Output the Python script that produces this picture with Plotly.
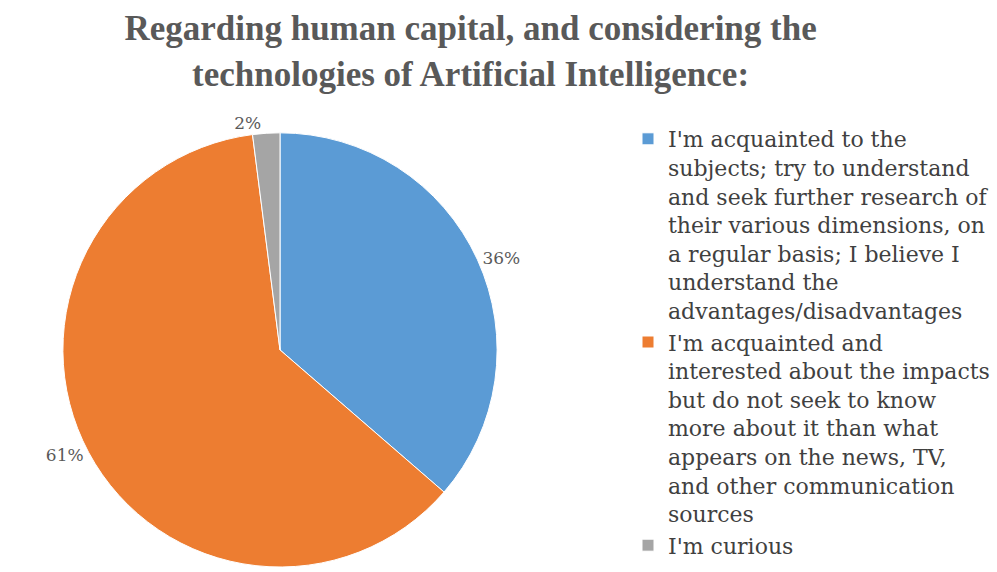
import plotly.graph_objects as go

# Survey answers and their shares (%)
answers = [
    "I'm acquainted to the<br>subjects; try to understand<br>and seek further research of<br>their various dimensions, on<br>a regular basis; I believe I<br>understand the<br>advantages/disadvantages",
    "I'm acquainted and<br>interested about the impacts<br>but do not seek to know<br>more about it than what<br>appears on the news, TV,<br>and other communication<br>sources",
    "I'm curious",
]
shares = [36, 61, 2]
slice_colors = ["#5B9BD5", "#ED7D31", "#A5A5A5"]

title_text = "Regarding human capital, and considering the<br>technologies of Artificial Intelligence:"

W, H = 997, 572
cx, half = 280, 219  # pie domain centre (x) and half-size in pixels

fig = go.Figure(
    go.Pie(
        labels=answers,
        values=shares,
        sort=False,
        direction="clockwise",
        rotation=0,
        marker=dict(colors=slice_colors, line=dict(color="white", width=1)),
        texttemplate="%{value}%",
        textposition="outside",
        textfont=dict(family="DejaVu Serif", size=17, color="#595959"),
        hoverinfo="label+value",
        domain=dict(
            x=[(cx - half) / W, (cx + half) / W],
            y=[0, 2 * half / H],
        ),
    )
)

fig.update_layout(
    width=W,
    height=H,
    margin=dict(l=0, r=0, t=0, b=0),
    paper_bgcolor="white",
    plot_bgcolor="white",
    title=dict(
        text=title_text,
        x=0.472,
        xanchor="center",
        y=1 - 40 / H,
        yanchor="top",
        font=dict(family="Liberation Serif", size=35, color="#595959", weight="bold"),
    ),
    legend=dict(
        x=628 / W,
        xanchor="left",
        y=0,
        yanchor="bottom",
        valign="top",
        font=dict(family="DejaVu Serif", size=22, color="#404040"),
        bgcolor="rgba(0,0,0,0)",
    ),
    showlegend=True,
)

fig.write_html("out.html")
